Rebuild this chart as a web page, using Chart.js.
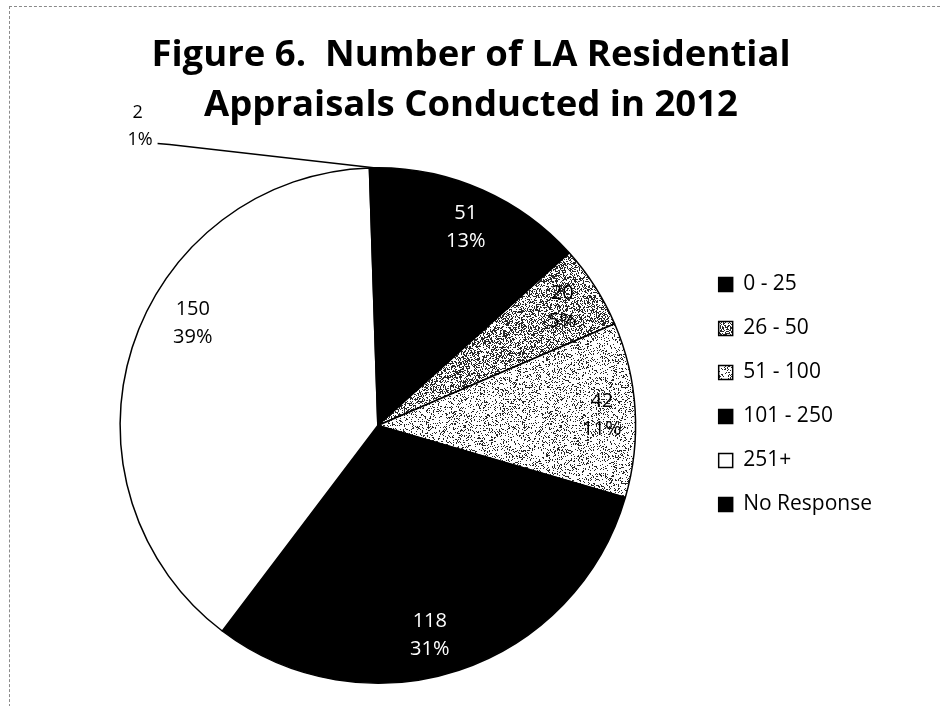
<!DOCTYPE html>
<html>
<head>
<meta charset="utf-8">
<title>Figure 6</title>
<script src="https://cdn.jsdelivr.net/npm/chart.js@4/dist/chart.umd.min.js"></script>
<style>
  html, body { margin: 0; padding: 0; background: #fff; }
  #wrap { position: relative; width: 940px; height: 706px; overflow: hidden; }
  #frame { position: absolute; left: 9px; top: 6px; width: 960px; height: 720px;
           border-left: 1px dashed #8a8a8a; border-top: 1px dashed #8a8a8a; pointer-events: none; }
</style>
</head>
<body>
<div id="wrap">
  <canvas id="myChart" width="940" height="706"></canvas>
  <div id="frame"></div>
</div>
<script>
// data
var categories = ['0 - 25', '26 - 50', '51 - 100', '101 - 250', '251+', 'No Response'];
var counts = [51, 20, 42, 118, 150, 2];
var percents = ['13%', '5%', '11%', '31%', '39%', '1%'];
var titleLines = ['Figure 6.  Number of LA Residential', 'Appraisals Conducted in 2012'];

// grey stipple fills, like the scanned pattern fills
function stipple(density, seed) {
  var size = 96;
  var c = document.createElement('canvas');
  c.width = size; c.height = size;
  var g = c.getContext('2d');
  var img = g.createImageData(size, size);
  var s = seed >>> 0;
  for (var i = 0; i < size * size; i++) {
    s = (Math.imul(s, 1103515245) + 12345) >>> 0;
    var v = ((s >>> 16) & 0x7fff) / 32768 < density ? 40 : 255;
    img.data[i * 4] = img.data[i * 4 + 1] = img.data[i * 4 + 2] = v;
    img.data[i * 4 + 3] = 255;
  }
  g.putImageData(img, 0, 0);
  return g.createPattern(c, 'repeat');
}

var fills = ['#000000', stipple(0.42, 7), stipple(0.2, 19), '#000000', '#ffffff', '#000000'];
var labelColors = ['#ffffff', '#000000', '#000000', '#ffffff', '#000000', '#000000'];

// where the label sits inside each slice (fraction of the sweep, fraction of the radius)
var labelSweep = [0.5, 0.5, 0.52, 0.54, 0.58, 0.5];
var labelDist = [0.84, 0.85, 0.87, 0.84, 0.82, 1];

var labelFont = '"Open Sans", "Noto Sans", sans-serif';

// value + percent labels, small slices get an outside label with a leader line
var sliceLabels = {
  id: 'sliceLabels',
  afterDatasetsDraw: function(chart) {
    var ctx = chart.ctx;
    var meta = chart.getDatasetMeta(0);
    var total = counts.reduce(function(a, b) { return a + b; }, 0);
    ctx.save();
    ctx.textAlign = 'center';
    ctx.textBaseline = 'middle';
    meta.data.forEach(function(arc, i) {
      var p = arc.getProps(['x', 'y', 'startAngle', 'endAngle', 'outerRadius']);
      var r = p.outerRadius;
      if (counts[i] / total < 0.02) {
        var mid = (p.startAngle + p.endAngle) / 2;
        var ex = p.x + Math.cos(mid) * r;
        var ey = p.y + Math.sin(mid) * r;
        var lx = p.x - 0.874 * r;
        var ly = p.y - 1.11 * r;
        ctx.strokeStyle = '#000';
        ctx.lineWidth = 1.5;
        ctx.beginPath();
        ctx.moveTo(lx + 5, ly + 4);
        ctx.lineTo(lx + 17, ly + 5);
        ctx.lineTo(ex, ey);
        ctx.stroke();
        ctx.fillStyle = '#000';
        ctx.font = '18px ' + labelFont;
        ctx.textAlign = 'right';
        ctx.fillText(percents[i], lx, ly);
        ctx.textAlign = 'center';
        ctx.fillText(String(counts[i]), lx - 15, ly - 27);
      } else {
        var a = p.startAngle + (p.endAngle - p.startAngle) * labelSweep[i];
        var d = labelDist[i] * r;
        var cx = p.x + Math.cos(a) * d;
        var cy = p.y + Math.sin(a) * d;
        ctx.fillStyle = labelColors[i];
        ctx.font = '20px ' + labelFont;
        ctx.fillText(String(counts[i]), cx, cy - 14);
        ctx.fillText(percents[i], cx, cy + 14);
      }
    });
    ctx.restore();
  }
};

var ctx = document.getElementById('myChart').getContext('2d');
var chart = new Chart(ctx, {
  type: 'pie',
  data: {
    labels: categories,
    datasets: [{
      data: counts,
      backgroundColor: fills,
      borderColor: '#000000',
      borderWidth: 1.5
    }]
  },
  options: {
    responsive: false,
    animation: false,
    layout: { padding: { left: 60, right: 58, top: 0, bottom: 22 } },
    plugins: {
      title: {
        display: true,
        text: titleLines,
        color: '#000',
        font: { family: '"Open Sans", sans-serif', size: 36.5, weight: 'bold', lineHeight: 1.37 },
        padding: { top: 31, bottom: 36 }
      },
      legend: {
        position: 'right',
        align: 'start',
        title: { display: true, text: '', font: { size: 12, lineHeight: 1.2 }, padding: { top: 236.6, bottom: 0 } },
        labels: {
          color: '#000',
          boxWidth: 14,
          boxHeight: 14,
          padding: 23,
          font: { family: labelFont, size: 21 }
        }
      },
      tooltip: { enabled: false }
    }
  },
  plugins: [sliceLabels]
});
</script>
</body>
</html>
